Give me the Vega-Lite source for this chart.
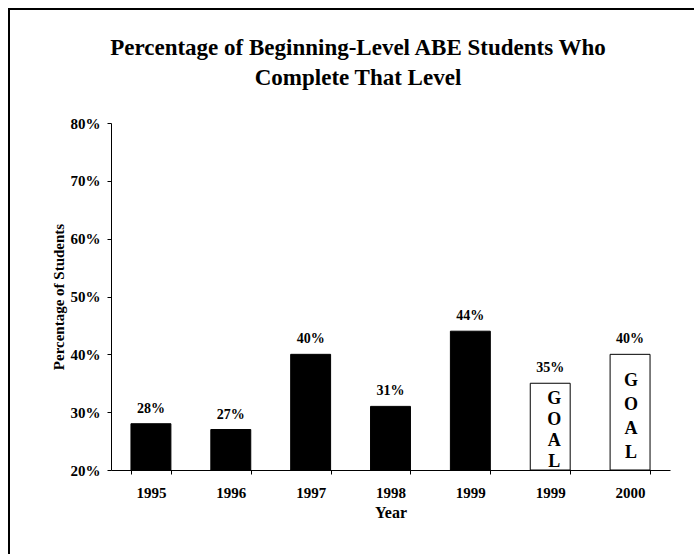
{
  "$schema": "https://vega.github.io/schema/vega-lite/v6.json",
  "width": 559,
  "height": 347,
  "autosize": "none",
  "padding": {"left": 111, "top": 123, "right": 24, "bottom": 84},
  "background": "white",
  "config": {"view": {"stroke": null}, "font": "Liberation Serif"},
  "title": {
    "text": ["Percentage of Beginning-Level ABE Students Who", "Complete That Level"],
    "font": "Liberation Serif",
    "fontSize": 23,
    "fontWeight": "bold",
    "lineHeight": 30,
    "color": "black",
    "anchor": "middle",
    "frame": "bounds",
    "offset": -82
  },
  "data": {
    "values": [
      {"cat": "1995", "value": 0.28, "kind": "actual"},
      {"cat": "1996", "value": 0.27, "kind": "actual"},
      {"cat": "1997", "value": 0.40, "kind": "actual"},
      {"cat": "1998", "value": 0.31, "kind": "actual"},
      {"cat": "1999", "value": 0.44, "kind": "actual"},
      {"cat": "1999 Goal", "value": 0.35, "kind": "goal", "goal": "G\nO\nA\nL"},
      {"cat": "2000 Goal", "value": 0.40, "kind": "goal", "goal": "G\nO\nA\nL"}
    ]
  },
  "encoding": {
    "x": {
      "field": "cat",
      "type": "nominal",
      "sort": null,
      "scale": {"paddingInner": 0.5, "paddingOuter": 0.25},
      "axis": {
        "title": "Year",
        "labelExpr": "split(datum.label, ' ')[0]",
        "labelAngle": 0,
        "tickBand": "extent",
        "tickSize": 4,
        "labelPadding": 11,
        "labelFont": "Liberation Serif",
        "labelFontSize": 15,
        "labelFontWeight": "bold",
        "labelColor": "black",
        "titleFont": "Liberation Serif",
        "titleFontSize": 16,
        "titleFontWeight": "bold",
        "titleColor": "black",
        "titlePadding": 4,
        "domainColor": "black",
        "tickColor": "black",
        "grid": false
      }
    }
  },
  "layer": [
    {
      "data": {"values": [{}]},
      "mark": {"type": "rect", "filled": false, "color": "black", "strokeWidth": 2, "clip": false},
      "encoding": {
        "x": {"value": -102},
        "x2": {"value": 596},
        "y": {"value": -114},
        "y2": {"value": 450}
      }
    },
    {
      "mark": {"type": "bar", "stroke": "black", "strokeWidth": 1},
      "encoding": {
        "y": {
          "field": "value",
          "type": "quantitative",
          "scale": {"domain": [0.2, 0.8], "zero": false, "nice": false},
          "axis": {
            "title": "Percentage of Students",
            "values": [0.2, 0.3, 0.4, 0.5, 0.6, 0.7, 0.8],
            "format": ".0%",
            "tickSize": 4,
            "labelPadding": 7,
            "labelFont": "Liberation Serif",
            "labelFontSize": 15,
            "labelFontWeight": "bold",
            "labelColor": "black",
            "titleFont": "Liberation Serif",
            "titleFontSize": 15,
            "titleFontWeight": "bold",
            "titleColor": "black",
            "titlePadding": 4,
            "domainColor": "black",
            "tickColor": "black",
            "grid": false
          }
        },
        "y2": {"datum": 0.2},
        "fill": {
          "field": "kind",
          "type": "nominal",
          "scale": {"domain": ["actual", "goal"], "range": ["black", "white"]},
          "legend": null
        }
      }
    },
    {
      "mark": {"type": "text", "baseline": "alphabetic", "dy": -11, "fontSize": 14, "fontWeight": "bold", "font": "Liberation Serif", "color": "black"},
      "encoding": {
        "y": {"field": "value", "type": "quantitative"},
        "text": {"field": "value", "type": "quantitative", "format": ".0%"}
      }
    },
    {
      "transform": [{"filter": "datum.cat === '1999 Goal'"}],
      "mark": {"type": "text", "baseline": "alphabetic", "lineBreak": "\n", "lineHeight": 21, "dy": 21, "dx": 4, "fontSize": 18, "fontWeight": "bold", "font": "Liberation Serif", "color": "black"},
      "encoding": {
        "y": {"field": "value", "type": "quantitative"},
        "text": {"field": "goal", "type": "nominal"}
      }
    },
    {
      "transform": [{"filter": "datum.cat === '2000 Goal'"}],
      "mark": {"type": "text", "baseline": "alphabetic", "lineBreak": "\n", "lineHeight": 24, "dy": 32, "dx": 1, "fontSize": 18, "fontWeight": "bold", "font": "Liberation Serif", "color": "black"},
      "encoding": {
        "y": {"field": "value", "type": "quantitative"},
        "text": {"field": "goal", "type": "nominal"}
      }
    }
  ]
}
